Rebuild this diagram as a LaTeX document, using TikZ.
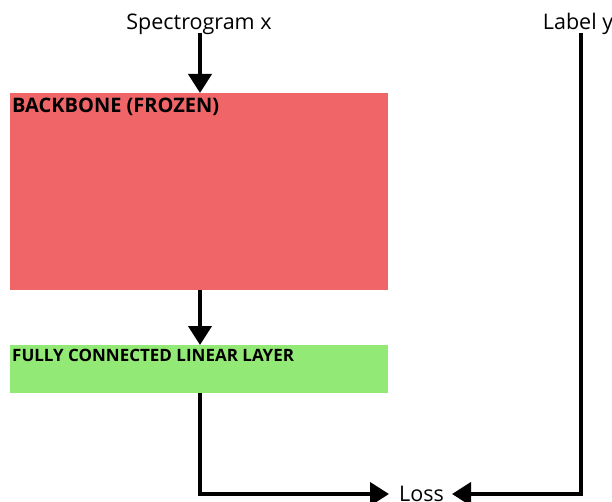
\documentclass[tikz,border=0pt]{standalone}
\usepackage{fontspec}
\setmainfont{Open Sans}
\usetikzlibrary{arrows.meta}
\definecolor{bbred}{RGB}{240,102,104}
\definecolor{fcgreen}{RGB}{147,233,117}
\begin{document}
\begin{tikzpicture}[x=1pt,y=-1pt,
  arr/.style={line width=4pt,-{Triangle[width=23pt,length=19pt]}},
  plain/.style={font=\fontsize{21.5}{24}\selectfont, inner sep=0pt, anchor=base},
  boxlabel/.style={inner sep=0pt, anchor=base west}]
\useasboundingbox (0,0) rectangle (612,502);
\fill[bbred] (10,93) rectangle (388,290);
\node[boxlabel, font=\fontsize{20}{22}\selectfont\bfseries] (bbtxt) at (12,113) {BACKBONE (FROZEN)};
\coordinate (bbtop) at (200,93);
\coordinate (bbbot) at (200,290);
\fill[fcgreen] (10,345) rectangle (388,393);
\node[boxlabel, font=\fontsize{17}{19}\selectfont\bfseries] (fctxt) at (12,361) {FULLY CONNECTED LINEAR LAYER};
\coordinate (fctop) at (200,345);
\coordinate (fcbot) at (200,393);
\node[plain] (spec) at (199,30) {Spectrogram x};
\node[plain] (laby) at (578,30) {Label y};
\node[plain, inner xsep=10pt, anchor=base west] (loss) at (389,501) {Loss};
\coordinate (lossw) at (389,494);
\coordinate (losse) at (452,494);
\coordinate (specout) at (200,33);
\coordinate (labyout) at (581,33);
\draw[arr] (specout) -- (bbtop);
\draw[arr] (bbbot) -- (fctop);
\draw[arr] (fcbot) |- (lossw);
\draw[arr] (labyout) |- (losse);
\end{tikzpicture}
\end{document}
